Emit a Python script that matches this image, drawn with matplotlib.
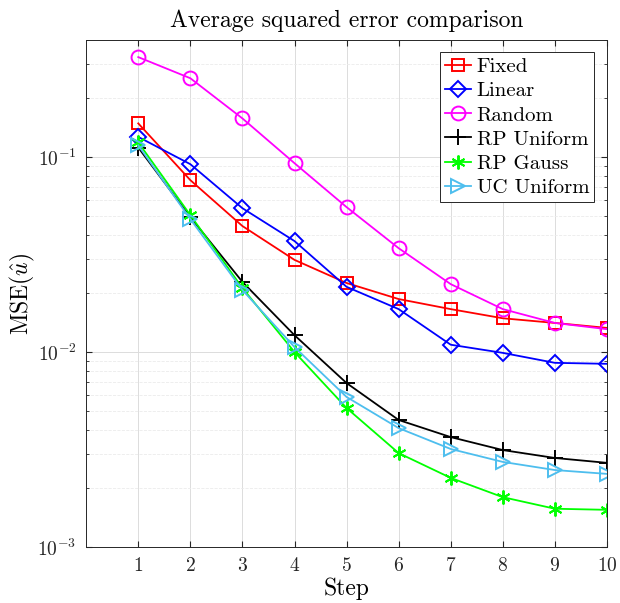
import matplotlib
matplotlib.use("Agg")
import matplotlib.pyplot as plt
import numpy as np

steps = [1, 2, 3, 4, 5, 6, 7, 8, 9, 10]
fixed = [0.149, 0.0762, 0.0443, 0.0297, 0.0226, 0.0187, 0.0166, 0.0149, 0.0141, 0.0133]
linear = [0.127, 0.092, 0.0547, 0.0371, 0.0216, 0.0166, 0.0109, 0.0099, 0.0088, 0.0087]
random_ = [0.326, 0.254, 0.158, 0.0931, 0.0554, 0.0341, 0.0223, 0.0166, 0.0141, 0.0131]
rp_uniform = [0.112, 0.0492, 0.0229, 0.0122, 0.00693, 0.00448, 0.00366, 0.00314, 0.00286, 0.00270]
rp_gauss = [0.119, 0.0504, 0.0213, 0.0100, 0.00516, 0.00303, 0.00226, 0.00180, 0.00157, 0.00155]
uc_uniform = [0.115, 0.0481, 0.0208, 0.0106, 0.00588, 0.00407, 0.00318, 0.00273, 0.00248, 0.00237]

plt.rcParams['font.family'] = 'serif'
plt.rcParams['font.serif'] = ['cmr10']
plt.rcParams['mathtext.fontset'] = 'cm'
plt.rcParams['axes.formatter.use_mathtext'] = True

fig = plt.figure(figsize=(6.2, 6.03), dpi=100)
ax = fig.add_axes([0.139, 0.093, 0.840, 0.841])

series = [
    ("Fixed", fixed, "#ff0000", "s", 9),
    ("Linear", linear, "#0000ff", "D", 8.5),
    ("Random", random_, "#ff00ff", "o", 10),
    ("RP Uniform", rp_uniform, "#000000", "+", 11),
    ("RP Gauss", rp_gauss, "#00ff00", (6, 2, 0), 10),
    ("UC Uniform", uc_uniform, "#4dbeee", ">", 10),
]
for name, vals, col, mk, ms in series:
    ax.plot(steps, vals, color=col, marker=mk, markersize=ms, lw=1.3,
            markerfacecolor='none', markeredgewidth=1.4, label=name)

ax.set_yscale('log')
ax.set_xlim(0, 10)
ax.set_ylim(1e-3, 0.4)
ax.set_xticks(steps)
ax.set_yticks([1e-3, 1e-2, 1e-1])
ax.tick_params(which='both', direction='in', top=True, right=True, labelsize=14,
               colors='#262626')
ax.tick_params(which='major', length=4, pad=7)
ax.tick_params(which='minor', length=2)
ax.grid(True, which='major', color='#dcdcdc', lw=0.7)
ax.grid(True, which='minor', axis='y', color='#ebebeb', lw=0.6, ls='--')
ax.set_axisbelow(True)
for s in ax.spines.values():
    s.set_color('#262626')
    s.set_linewidth(0.7)

ax.set_title("Average squared error comparison", fontsize=17, pad=9)
ax.set_xlabel("Step", fontsize=17, labelpad=2)
ax.set_ylabel(r"MSE$(\hat{u})$", fontsize=17, labelpad=0)

leg = ax.legend(loc='upper right', fontsize=15, fancybox=False, framealpha=1,
                edgecolor='#262626', borderpad=0.25, labelspacing=0.27,
                handlelength=1.25, handletextpad=0.25, borderaxespad=0.6)
leg.get_frame().set_linewidth(0.7)

fig.savefig("out.png", dpi=100)
